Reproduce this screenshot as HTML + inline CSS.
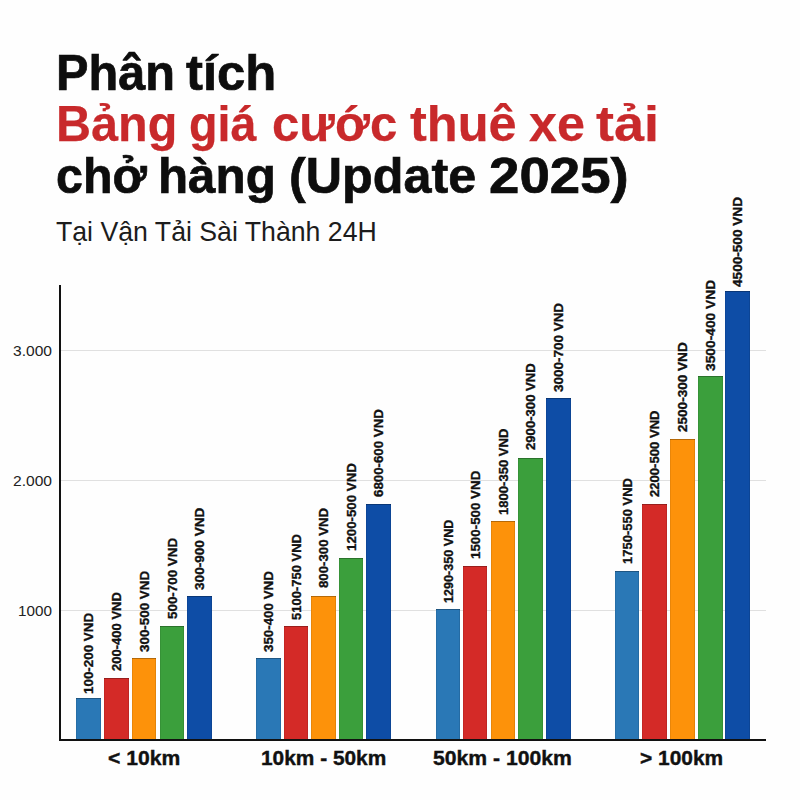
<!DOCTYPE html>
<html><head><meta charset="utf-8"><style>
html,body{margin:0;padding:0}
body{width:800px;height:800px;background:#fefefe;position:relative;overflow:hidden;font-family:"Liberation Sans",sans-serif}
.w{position:absolute;white-space:nowrap;line-height:1;transform-origin:0 0}
.tt{-webkit-text-stroke:0.7px currentColor}
.xs{-webkit-text-stroke:0.4px currentColor}
.tr{-webkit-text-stroke:0.25px currentColor}
.bar{position:absolute;box-sizing:border-box;box-shadow:inset 0 1px 0 rgba(0,0,0,.28),inset 1px 0 0 rgba(0,0,0,.08),inset -1px 0 0 rgba(0,0,0,.1)}
.lab{position:absolute;white-space:nowrap;font-weight:bold;line-height:1;color:#111;transform-origin:0 0;-webkit-text-stroke:0.35px #111}
.grid{position:absolute;left:61px;width:705px;height:1px;background:#e0e0e0}
</style></head><body>
<div class="grid" style="top:350px"></div>
<div class="grid" style="top:480px"></div>
<div class="grid" style="top:610px"></div>
<div class="bar" style="left:76px;top:698.00px;width:24.5px;height:41.00px;background:#2a78b6"></div>
<div class="bar" style="left:104px;top:678.10px;width:24.5px;height:60.90px;background:#d42a27"></div>
<div class="bar" style="left:131.5px;top:657.90px;width:24.5px;height:81.10px;background:#fd920a"></div>
<div class="bar" style="left:159.5px;top:625.50px;width:24.5px;height:113.50px;background:#3b9f3c"></div>
<div class="bar" style="left:187px;top:596.00px;width:24.5px;height:143.00px;background:#0e4da6"></div>
<div class="bar" style="left:256px;top:658.00px;width:24.5px;height:81.00px;background:#2a78b6"></div>
<div class="bar" style="left:283.5px;top:626.40px;width:24.5px;height:112.60px;background:#d42a27"></div>
<div class="bar" style="left:311.25px;top:596.40px;width:24.5px;height:142.60px;background:#fd920a"></div>
<div class="bar" style="left:338.75px;top:558.25px;width:24.5px;height:180.75px;background:#3b9f3c"></div>
<div class="bar" style="left:366.25px;top:504.25px;width:24.5px;height:234.75px;background:#0e4da6"></div>
<div class="bar" style="left:435.5px;top:609.40px;width:24.5px;height:129.60px;background:#2a78b6"></div>
<div class="bar" style="left:462.8px;top:565.50px;width:24.5px;height:173.50px;background:#d42a27"></div>
<div class="bar" style="left:490.5px;top:520.50px;width:24.5px;height:218.50px;background:#fd920a"></div>
<div class="bar" style="left:518.1px;top:457.60px;width:24.5px;height:281.40px;background:#3b9f3c"></div>
<div class="bar" style="left:546px;top:398.00px;width:24.5px;height:341.00px;background:#0e4da6"></div>
<div class="bar" style="left:614.75px;top:570.75px;width:24.5px;height:168.25px;background:#2a78b6"></div>
<div class="bar" style="left:642.25px;top:503.90px;width:24.5px;height:235.10px;background:#d42a27"></div>
<div class="bar" style="left:670px;top:438.50px;width:24.5px;height:300.50px;background:#fd920a"></div>
<div class="bar" style="left:698px;top:375.90px;width:24.5px;height:363.10px;background:#3b9f3c"></div>
<div class="bar" style="left:725.25px;top:291.40px;width:24.5px;height:447.60px;background:#0e4da6"></div>
<div style="position:absolute;left:59px;top:285px;width:2px;height:456px;background:#111"></div>
<div style="position:absolute;left:59px;top:739px;width:707px;height:2px;background:#111"></div>
<div class="w tt" style="left:55.90px;top:47.50px;font-size:49.5px;font-weight:bold;color:#0d0d0d;transform:scaleX(0.9830)">Phân</div>
<div class="w tt" style="left:186.47px;top:47.50px;font-size:49.5px;font-weight:bold;color:#0d0d0d;transform:scaleX(1.0268)">tích</div>
<div class="w tr" style="left:56.06px;top:99.00px;font-size:49.5px;font-weight:bold;color:#c8292b;transform:scaleX(0.9808)">Bảng</div>
<div class="w tr" style="left:189.37px;top:99.00px;font-size:49.5px;font-weight:bold;color:#c8292b;transform:scaleX(0.9421)">giá</div>
<div class="w tr" style="left:272.41px;top:99.00px;font-size:49.5px;font-weight:bold;color:#c8292b;transform:scaleX(0.9934)">cước</div>
<div class="w tr" style="left:409.58px;top:99.00px;font-size:49.5px;font-weight:bold;color:#c8292b;transform:scaleX(1.0206)">thuê</div>
<div class="w tr" style="left:528.68px;top:99.00px;font-size:49.5px;font-weight:bold;color:#c8292b;transform:scaleX(1.0154)">xe</div>
<div class="w tr" style="left:596.41px;top:99.00px;font-size:49.5px;font-weight:bold;color:#c8292b;transform:scaleX(1.0906)">tải</div>
<div class="w tt" style="left:56.05px;top:150.50px;font-size:49.5px;font-weight:bold;color:#0d0d0d;transform:scaleX(0.9769)">chở</div>
<div class="w tt" style="left:158.26px;top:150.50px;font-size:49.5px;font-weight:bold;color:#0d0d0d;transform:scaleX(0.9960)">hàng</div>
<div class="w tt" style="left:289.45px;top:150.50px;font-size:49.5px;font-weight:bold;color:#0d0d0d;transform:scaleX(1.0156)">(Update</div>
<div class="w tt" style="left:489.39px;top:150.50px;font-size:49.5px;font-weight:bold;color:#0d0d0d;transform:scaleX(1.1037)">2025)</div>
<div class="w" style="left:55.92px;top:218.25px;font-size:27.2px;font-weight:normal;color:#1c1c1c;transform:scaleX(0.9810)">Tại Vận Tải Sài Thành 24H</div>
<div class="w" style="left:13.05px;top:342.90px;font-size:15.5px;font-weight:normal;color:#222;transform:scaleX(1.0051)">3.000</div>
<div class="w" style="left:12.99px;top:472.80px;font-size:15.5px;font-weight:normal;color:#222;transform:scaleX(1.0068)">2.000</div>
<div class="w" style="left:17.77px;top:602.90px;font-size:15.5px;font-weight:normal;color:#222;transform:scaleX(0.9848)">1000</div>
<div class="w xs" style="left:107.72px;top:748.00px;font-size:20.5px;font-weight:bold;color:#111;transform:scaleX(1.0294)">&lt; 10km</div>
<div class="w xs" style="left:260.58px;top:748.00px;font-size:20.5px;font-weight:bold;color:#111;transform:scaleX(1.0174)">10km - 50km</div>
<div class="w xs" style="left:433.37px;top:748.00px;font-size:20.5px;font-weight:bold;color:#111;transform:scaleX(1.0318)">50km - 100km</div>
<div class="w xs" style="left:640.23px;top:748.00px;font-size:20.5px;font-weight:bold;color:#111;transform:scaleX(1.0209)">&gt; 100km</div>
<div class="lab" style="left:82.00px;top:693.50px;font-size:13.4px;transform:rotate(-90deg) scaleX(1.0000)">100-200 VND</div>
<div class="lab" style="left:110.00px;top:671.25px;font-size:13.4px;transform:rotate(-90deg) scaleX(0.9722)">200-400 VND</div>
<div class="lab" style="left:137.50px;top:652.25px;font-size:13.4px;transform:rotate(-90deg) scaleX(1.0000)">300-500 VND</div>
<div class="lab" style="left:165.50px;top:618.50px;font-size:13.4px;transform:rotate(-90deg) scaleX(1.0000)">500-700 VND</div>
<div class="lab" style="left:193.00px;top:589.77px;font-size:13.4px;transform:rotate(-90deg) scaleX(1.0156)">300-900 VND</div>
<div class="lab" style="left:262.00px;top:652.30px;font-size:13.4px;transform:rotate(-90deg) scaleX(0.9962)">350-400 VND</div>
<div class="lab" style="left:289.50px;top:620.37px;font-size:13.4px;transform:rotate(-90deg) scaleX(0.9701)">5100-750 VND</div>
<div class="lab" style="left:317.25px;top:587.50px;font-size:13.4px;transform:rotate(-90deg) scaleX(0.9877)">800-300 VND</div>
<div class="lab" style="left:344.75px;top:550.99px;font-size:13.4px;transform:rotate(-90deg) scaleX(0.9914)">1200-500 VND</div>
<div class="lab" style="left:372.25px;top:497.24px;font-size:13.4px;transform:rotate(-90deg) scaleX(0.9914)">6800-600 VND</div>
<div class="lab" style="left:441.50px;top:603.14px;font-size:13.4px;transform:rotate(-90deg) scaleX(0.9414)">1290-350 VND</div>
<div class="lab" style="left:468.80px;top:559.30px;font-size:13.4px;transform:rotate(-90deg) scaleX(0.9966)">1500-500 VND</div>
<div class="lab" style="left:496.50px;top:514.97px;font-size:13.4px;transform:rotate(-90deg) scaleX(0.9747)">1800-350 VND</div>
<div class="lab" style="left:524.10px;top:450.00px;font-size:13.4px;transform:rotate(-90deg) scaleX(0.9801)">2900-300 VND</div>
<div class="lab" style="left:552.00px;top:392.26px;font-size:13.4px;transform:rotate(-90deg) scaleX(1.0057)">3000-700 VND</div>
<div class="lab" style="left:620.75px;top:563.77px;font-size:13.4px;transform:rotate(-90deg) scaleX(0.9701)">1750-550 VND</div>
<div class="lab" style="left:648.25px;top:497.20px;font-size:13.4px;transform:rotate(-90deg) scaleX(0.9767)">2200-500 VND</div>
<div class="lab" style="left:676.00px;top:431.60px;font-size:13.4px;transform:rotate(-90deg) scaleX(1.0125)">2500-300 VND</div>
<div class="lab" style="left:704.00px;top:370.53px;font-size:13.4px;transform:rotate(-90deg) scaleX(1.0287)">3500-400 VND</div>
<div class="lab" style="left:731.25px;top:287.00px;font-size:13.4px;transform:rotate(-90deg) scaleX(1.0159)">4500-500 VND</div>
</body></html>
